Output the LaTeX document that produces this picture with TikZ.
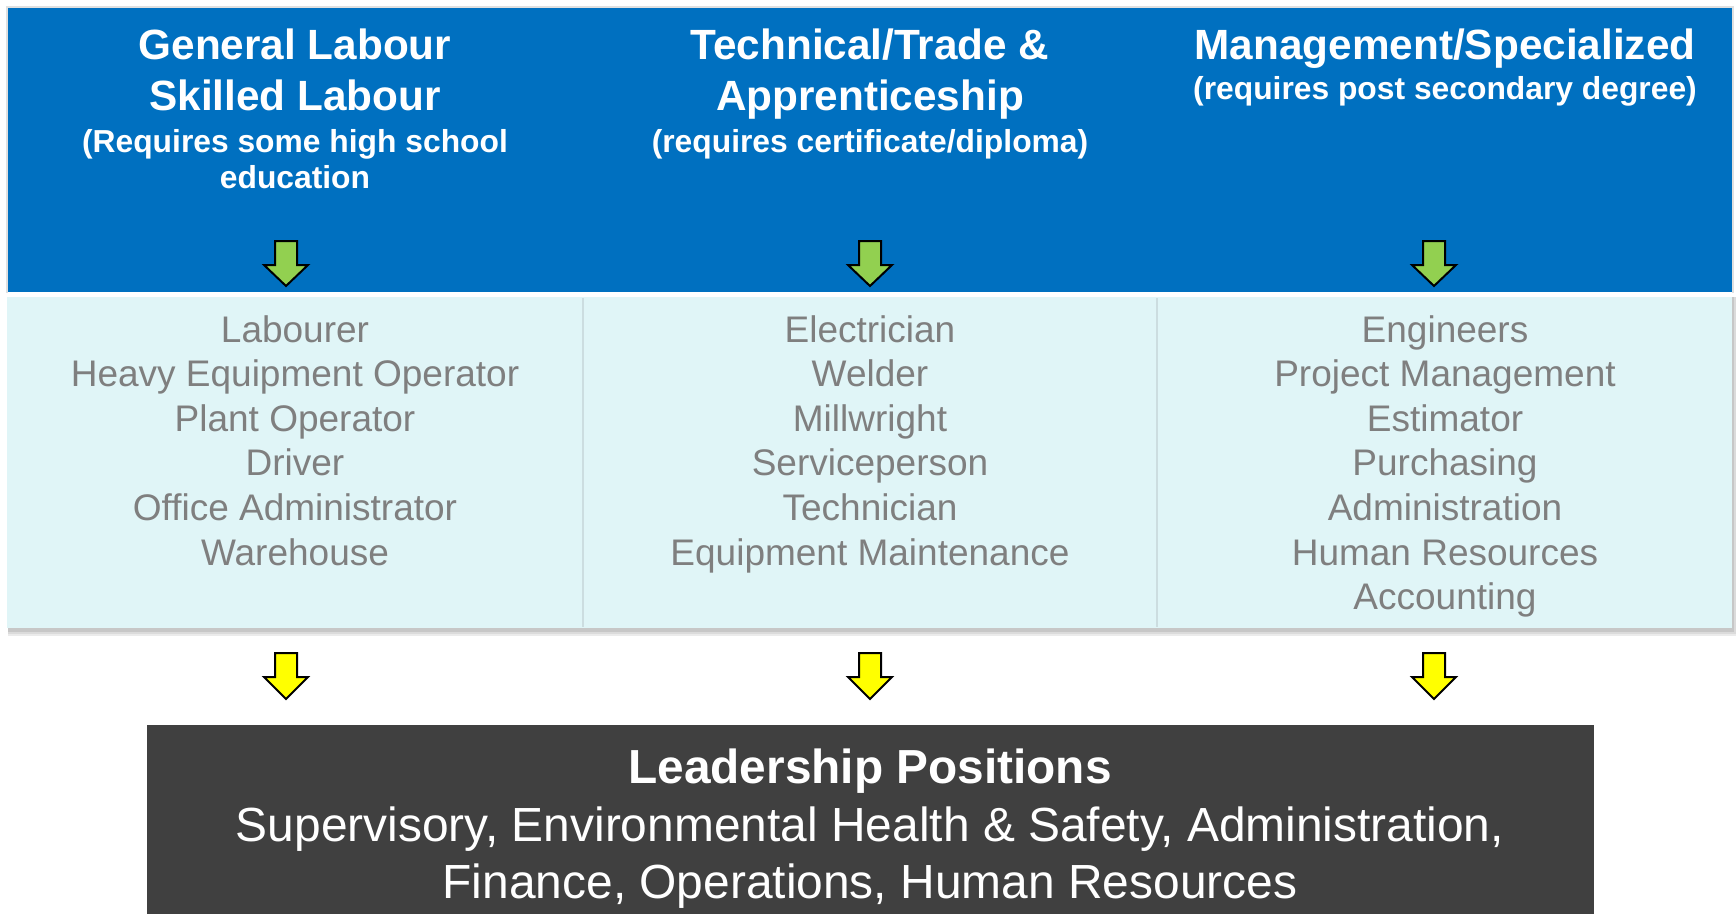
\documentclass[tikz,border=0pt]{standalone}
\usepackage{fontspec}
\setmainfont{Liberation Sans}
\definecolor{hdrblue}{HTML}{0070C0}
\definecolor{panelcyan}{HTML}{E0F5F7}
\definecolor{itemgray}{HTML}{7F7F7F}
\definecolor{darkbox}{HTML}{404040}
\definecolor{arrgreen}{HTML}{92D050}
\definecolor{arryellow}{HTML}{FFFF00}
\definecolor{divline}{HTML}{CCDDE0}
\tikzset{
  ttl/.style={anchor=base, text=white, font=\fontsize{42.3}{50}\selectfont\bfseries, inner sep=0pt},
  subttl/.style={anchor=base, text=white, font=\fontsize{31.8}{36}\selectfont\bfseries, inner sep=0pt},
  item/.style={anchor=base, text=itemgray, font=\fontsize{37}{44}\selectfont, inner sep=0pt},
  leadttl/.style={anchor=base, text=white, font=\fontsize{47.8}{57}\selectfont\bfseries, inner sep=0pt},
  leadtxt/.style={anchor=base, text=white, font=\fontsize{47.9}{57}\selectfont, inner sep=0pt},
  blockarrow/.style={draw=black, line width=2pt, line join=miter},
}
\newcommand\blkarrow[4]{% x, top, headstart, colour
  \filldraw[blockarrow, fill=#4] (#1-11,#2) -- (#1+11,#2) -- (#1+11,#3) -- (#1+22,#3) -- (#1,#3+21) -- (#1-22,#3) -- (#1-11,#3) -- cycle;}
\newcommand\blkarrowy[2]{%
  \filldraw[blockarrow, fill=#2] (#1-11,653) -- (#1+11,653) -- (#1+11,677) -- (#1+22,677) -- (#1,699) -- (#1-22,677) -- (#1-11,677) -- cycle;}
\begin{document}
\begin{tikzpicture}[x=1pt,y=-1pt]
\useasboundingbox (0,0) rectangle (1736,913);
% header shadow/border
\fill[black!12] (6,6) rectangle (1734,293);
% shadow of panel
\fill[black!8] (8,297) rectangle (1737,636);
\fill[black!14] (8,297) rectangle (1736,634);
\fill[black!22] (8,297) rectangle (1734,632);
% header
\fill[hdrblue] (8,8) rectangle (1732,292);
\fill[white] (8,292) rectangle (1732,297);
% panel
\fill[panelcyan] (7,297) rectangle (1732,628);
\draw[divline, line width=1.5pt] (583,298) -- (583,627);
\draw[divline, line width=1.5pt] (1157,298) -- (1157,627);

% Column 1 header
\node[ttl] (h1a) at (295,59) {General Labour};
\node[ttl] (h1b) at (295,110) {Skilled Labour};
\node[subttl] (h1c) at (295,152) {(Requires some high school};
\node[subttl] (h1d) at (295,188) {education};
% Column 2 header
\node[ttl] (h2a) at (870,59) {Technical/Trade \&};
\node[ttl] (h2b) at (870,110) {Apprenticeship};
\node[subttl] (h2c) at (870,152) {(requires certificate/diploma)};
% Column 3 header
\node[ttl] (h3a) at (1445,59) {Management/Specialized};
\node[subttl] (h3b) at (1445,99) {(requires post secondary degree)};

% green arrows
\blkarrow{286}{241}{265}{arrgreen}
\blkarrow{870}{241}{265}{arrgreen}
\blkarrow{1434}{241}{265}{arrgreen}

% items col 1
\node[item] (c1i1) at (295,342) {Labourer};
\node[item] (c1i2) at (295,386.6) {Heavy Equipment Operator};
\node[item] (c1i3) at (295,431.2) {Plant Operator};
\node[item] (c1i4) at (295,475.8) {Driver};
\node[item] (c1i5) at (295,520.4) {Office Administrator};
\node[item] (c1i6) at (295,565) {Warehouse};
% items col 2
\node[item] (c2i1) at (870,342) {Electrician};
\node[item] (c2i2) at (870,386.6) {Welder};
\node[item] (c2i3) at (870,431.2) {Millwright};
\node[item] (c2i4) at (870,475.8) {Serviceperson};
\node[item] (c2i5) at (870,520.4) {Technician};
\node[item] (c2i6) at (870,565) {Equipment Maintenance};
% items col 3
\node[item] (c3i1) at (1445,342) {Engineers};
\node[item] (c3i2) at (1445,386.6) {Project Management};
\node[item] (c3i3) at (1445,431.2) {Estimator};
\node[item] (c3i4) at (1445,475.8) {Purchasing};
\node[item] (c3i5) at (1445,520.4) {Administration};
\node[item] (c3i6) at (1445,565) {Human Resources};
\node[item] (c3i7) at (1445,609.6) {Accounting};

% yellow arrows
\blkarrowy{286}{arryellow}
\blkarrowy{870}{arryellow}
\blkarrowy{1434}{arryellow}

% leadership box
\fill[darkbox] (147,725) rectangle (1594,914);
\node[leadttl] (lt) at (870,783) {Leadership Positions};
\node[leadtxt] (l1) at (870,841) {Supervisory, Environmental Health \& Safety, Administration,};
\node[leadtxt] (l2) at (870,898) {Finance, Operations, Human Resources};
\end{tikzpicture}
\end{document}
